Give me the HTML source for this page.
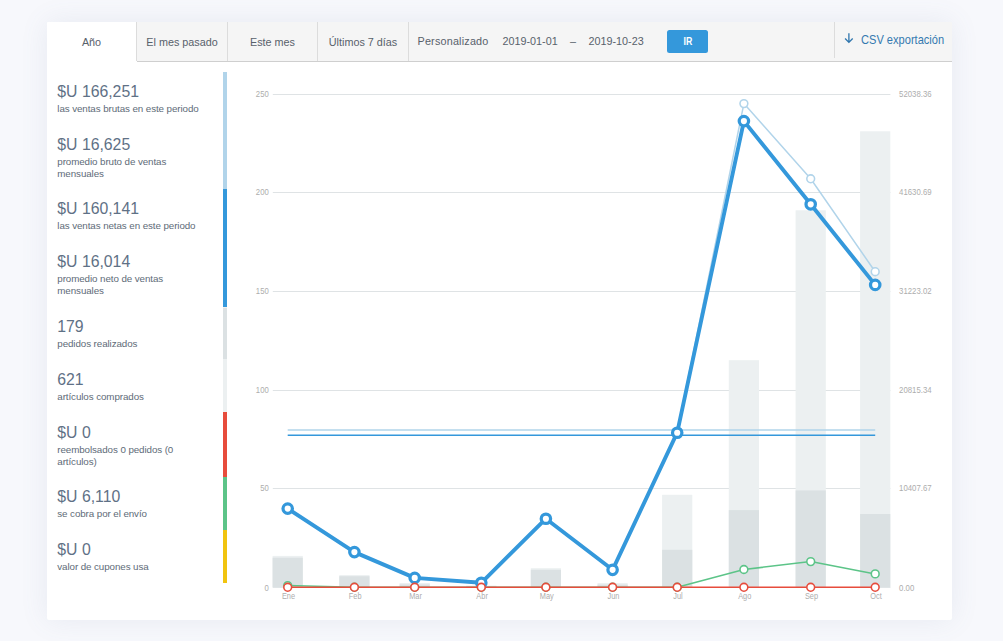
<!DOCTYPE html>
<html lang="es">
<head>
<meta charset="utf-8">
<title>Informes</title>
<style>
html,body{margin:0;padding:0}
body{width:1003px;height:641px;overflow:hidden;background:#f7f8fc;font-family:"Liberation Sans",sans-serif;position:relative}
.card{position:absolute;left:47px;top:22px;width:905px;height:598px;background:#fff;border-radius:2px;box-shadow:0 0 28px rgba(100,118,155,.11)}
.tabs{position:absolute;left:47px;top:22px;width:905px;height:39px;background:#f5f5f5;border-bottom:1px solid #cfcfcf;border-radius:1px 1px 0 0}
.tab{position:absolute;top:0;height:39px;line-height:41px;text-align:center;font-size:10.8px;color:#58616b;border-right:1px solid #dcdcdc;box-sizing:border-box;white-space:nowrap}
.tab.on{background:#fff;border-radius:1px 0 0 0}
.patch{position:absolute;left:0;top:39px;width:90px;height:1px;background:#fff}
.t{position:absolute;white-space:nowrap;font-size:10.8px;color:#58616b}
.btn{position:absolute;left:620px;top:8px;width:41px;height:23px;line-height:23.5px;background:#3498db;color:#fff;font-size:10px;font-weight:bold;text-align:center;border-radius:2.5px}
.btn span{display:inline-block;transform:scaleX(.88)}
.exp{position:absolute;left:787px;top:0;height:36px;border-left:1px solid #dcdcdc}
.exp span{position:absolute;left:26px;top:10px;font-size:13.2px;color:#3479b0;white-space:nowrap;transform:scaleX(.84);transform-origin:0 50%}
.exp svg{position:absolute;left:9px;top:10px}
.big{position:absolute;left:57.3px;font-size:15.8px;line-height:17px;color:#5f7186;white-space:nowrap}
.lab{position:absolute;left:57.3px;font-size:9.8px;line-height:12px;letter-spacing:-0.09px;color:#5e6b78;white-space:nowrap}
.seg{position:absolute;left:223px;width:4px}
.chart{position:absolute;left:0;top:0}
.tk{font-family:"Liberation Sans",sans-serif;font-size:8.2px;fill:#adadad}
</style>
</head>
<body>
<div class="card"></div>
<div class="tabs">
  <div class="tab on" style="left:0;width:90px">Año</div>
  <div class="patch"></div>
  <div class="tab" style="left:90px;width:91px">El mes pasado</div>
  <div class="tab" style="left:181px;width:90px">Este mes</div>
  <div class="tab" style="left:271px;width:91px">Últimos 7 días</div>
  <div class="t" style="left:370.5px;top:13px;letter-spacing:.2px">Personalizado</div>
  <div class="t" style="left:455.5px;top:13px">2019-01-01</div>
  <div class="t" style="left:523px;top:13px">–</div>
  <div class="t" style="left:541.5px;top:13px">2019-10-23</div>
  <div class="btn"><span>IR</span></div>
  <div class="exp">
    <svg width="10" height="12" viewBox="0 0 10 12"><path d="M4.9 1.2V10.4M1.1 6.5L4.9 10.4L8.7 6.5" fill="none" stroke="#2e75ad" stroke-width="1.3"/></svg>
    <span>CSV exportación</span>
  </div>
</div>
<div class="seg" style="top:72px;height:511px;background:#f1f1ef"></div>
<div class="seg" style="top:72px;height:116.7px;background:#b1d4ea"></div>
<div class="seg" style="top:188.7px;height:118.4px;background:#3498db"></div>
<div class="seg" style="top:308.1px;height:50.9px;background:#dbe1e3"></div>
<div class="seg" style="top:359px;height:51.8px;background:#ecf0f1"></div>
<div class="seg" style="top:411.85px;height:65.1px;background:#e74c3c"></div>
<div class="seg" style="top:477px;height:53.0px;background:#5cc488"></div>
<div class="seg" style="top:530px;height:53.0px;background:#f1c40f"></div>
<div class="big" style="top:83.00px">$U 166,251</div>
<div class="lab" style="top:102.50px">las ventas brutas en este periodo</div>
<div class="big" style="top:136.00px">$U 16,625</div>
<div class="lab" style="top:155.50px">promedio bruto de ventas<br>mensuales</div>
<div class="big" style="top:200.00px">$U 160,141</div>
<div class="lab" style="top:219.50px">las ventas netas en este periodo</div>
<div class="big" style="top:253.00px">$U 16,014</div>
<div class="lab" style="top:272.50px">promedio neto de ventas<br>mensuales</div>
<div class="big" style="top:318.00px">179</div>
<div class="lab" style="top:337.50px">pedidos realizados</div>
<div class="big" style="top:371.00px">621</div>
<div class="lab" style="top:390.50px">artículos comprados</div>
<div class="big" style="top:424.00px">$U 0</div>
<div class="lab" style="top:443.50px">reembolsados 0 pedidos (0<br>artículos)</div>
<div class="big" style="top:488.00px">$U 6,110</div>
<div class="lab" style="top:507.50px">se cobra por el envío</div>
<div class="big" style="top:541.00px">$U 0</div>
<div class="lab" style="top:560.50px">valor de cupones usa</div>
<svg class="chart" width="1003" height="641" viewBox="0 0 1003 641">
<line x1="272.8" x2="890.4" y1="587.5" y2="587.5" stroke="#dfe3e5" stroke-width="1"/>
<line x1="272.8" x2="890.4" y1="488.5" y2="488.5" stroke="#dfe3e5" stroke-width="1"/>
<line x1="272.8" x2="890.4" y1="390.5" y2="390.5" stroke="#dfe3e5" stroke-width="1"/>
<line x1="272.8" x2="890.4" y1="291.5" y2="291.5" stroke="#dfe3e5" stroke-width="1"/>
<line x1="272.8" x2="890.4" y1="192.5" y2="192.5" stroke="#dfe3e5" stroke-width="1"/>
<line x1="272.8" x2="890.4" y1="94.5" y2="94.5" stroke="#dfe3e5" stroke-width="1"/>
<rect x="272.6" y="555.9" width="30.2" height="31.4" fill="#ecf0f1"/>
<rect x="339.3" y="575.1" width="30.2" height="12.2" fill="#ecf0f1"/>
<rect x="399.6" y="583.0" width="30.2" height="4.3" fill="#ecf0f1"/>
<rect x="466.2" y="585.6" width="30.2" height="1.7" fill="#ecf0f1"/>
<rect x="530.8" y="568.2" width="30.2" height="19.1" fill="#ecf0f1"/>
<rect x="597.5" y="583.1" width="30.2" height="4.2" fill="#ecf0f1"/>
<rect x="662.1" y="494.8" width="30.2" height="92.5" fill="#ecf0f1"/>
<rect x="728.8" y="360.2" width="30.2" height="227.1" fill="#ecf0f1"/>
<rect x="795.6" y="210.3" width="30.2" height="377.0" fill="#ecf0f1"/>
<rect x="860.1" y="131.3" width="30.2" height="456.0" fill="#ecf0f1"/>
<rect x="272.6" y="557.7" width="30.2" height="29.6" fill="#dbe1e3"/>
<rect x="339.3" y="576.2" width="30.2" height="11.1" fill="#dbe1e3"/>
<rect x="399.6" y="584.4" width="30.2" height="2.9" fill="#dbe1e3"/>
<rect x="466.2" y="586.3" width="30.2" height="1.0" fill="#dbe1e3"/>
<rect x="530.8" y="569.8" width="30.2" height="17.5" fill="#dbe1e3"/>
<rect x="597.5" y="584.6" width="30.2" height="2.7" fill="#dbe1e3"/>
<rect x="662.1" y="549.8" width="30.2" height="37.5" fill="#dbe1e3"/>
<rect x="728.8" y="510.1" width="30.2" height="77.2" fill="#dbe1e3"/>
<rect x="795.6" y="490.4" width="30.2" height="96.9" fill="#dbe1e3"/>
<rect x="860.1" y="514.0" width="30.2" height="73.3" fill="#dbe1e3"/>
<line x1="287.7" x2="875.2" y1="430.1" y2="430.1" stroke="#b1d4ea" stroke-width="1.5"/>
<line x1="287.7" x2="875.2" y1="435.3" y2="435.3" stroke="#3498db" stroke-width="1.5"/>
<polyline points="287.7,585.6 354.4,587.3 414.7,587.3 481.3,587.3 545.9,587.3 612.6,587.3 677.2,587.3 743.9,569.5 810.7,561.6 875.2,573.9" fill="none" stroke="#5cc488" stroke-width="1.5" stroke-linejoin="round"/>
<circle cx="287.7" cy="585.6" r="3.9" fill="#fff" stroke="#5cc488" stroke-width="1.56"/>
<circle cx="354.4" cy="587.3" r="3.9" fill="#fff" stroke="#5cc488" stroke-width="1.56"/>
<circle cx="414.7" cy="587.3" r="3.9" fill="#fff" stroke="#5cc488" stroke-width="1.56"/>
<circle cx="481.3" cy="587.3" r="3.9" fill="#fff" stroke="#5cc488" stroke-width="1.56"/>
<circle cx="545.9" cy="587.3" r="3.9" fill="#fff" stroke="#5cc488" stroke-width="1.56"/>
<circle cx="612.6" cy="587.3" r="3.9" fill="#fff" stroke="#5cc488" stroke-width="1.56"/>
<circle cx="677.2" cy="587.3" r="3.9" fill="#fff" stroke="#5cc488" stroke-width="1.56"/>
<circle cx="743.9" cy="569.5" r="3.9" fill="#fff" stroke="#5cc488" stroke-width="1.56"/>
<circle cx="810.7" cy="561.6" r="3.9" fill="#fff" stroke="#5cc488" stroke-width="1.56"/>
<circle cx="875.2" cy="573.9" r="3.9" fill="#fff" stroke="#5cc488" stroke-width="1.56"/>
<polyline points="287.7,508.7 354.4,552.1 414.7,577.6 481.3,582.9 545.9,518.7 612.6,569.8 677.2,432.0 743.9,103.6 810.7,178.8 875.2,271.7" fill="none" stroke="#b1d4ea" stroke-width="1.5" stroke-linejoin="round"/>
<circle cx="287.7" cy="508.7" r="3.9" fill="#fff" stroke="#b1d4ea" stroke-width="1.56"/>
<circle cx="354.4" cy="552.1" r="3.9" fill="#fff" stroke="#b1d4ea" stroke-width="1.56"/>
<circle cx="414.7" cy="577.6" r="3.9" fill="#fff" stroke="#b1d4ea" stroke-width="1.56"/>
<circle cx="481.3" cy="582.9" r="3.9" fill="#fff" stroke="#b1d4ea" stroke-width="1.56"/>
<circle cx="545.9" cy="518.7" r="3.9" fill="#fff" stroke="#b1d4ea" stroke-width="1.56"/>
<circle cx="612.6" cy="569.8" r="3.9" fill="#fff" stroke="#b1d4ea" stroke-width="1.56"/>
<circle cx="677.2" cy="432.0" r="3.9" fill="#fff" stroke="#b1d4ea" stroke-width="1.56"/>
<circle cx="743.9" cy="103.6" r="3.9" fill="#fff" stroke="#b1d4ea" stroke-width="1.56"/>
<circle cx="810.7" cy="178.8" r="3.9" fill="#fff" stroke="#b1d4ea" stroke-width="1.56"/>
<circle cx="875.2" cy="271.7" r="3.9" fill="#fff" stroke="#b1d4ea" stroke-width="1.56"/>
<polyline points="287.7,508.6 354.4,552.1 414.7,577.9 481.3,582.8 545.9,518.7 612.6,569.8 677.2,432.7 743.9,121.1 810.7,204.3 875.2,284.9" fill="none" stroke="#3498db" stroke-width="3.9" stroke-linejoin="round"/>
<circle cx="287.7" cy="508.6" r="4.7" fill="#fff" stroke="#3498db" stroke-width="3.25"/>
<circle cx="354.4" cy="552.1" r="4.7" fill="#fff" stroke="#3498db" stroke-width="3.25"/>
<circle cx="414.7" cy="577.9" r="4.7" fill="#fff" stroke="#3498db" stroke-width="3.25"/>
<circle cx="481.3" cy="582.8" r="4.7" fill="#fff" stroke="#3498db" stroke-width="3.25"/>
<circle cx="545.9" cy="518.7" r="4.7" fill="#fff" stroke="#3498db" stroke-width="3.25"/>
<circle cx="612.6" cy="569.8" r="4.7" fill="#fff" stroke="#3498db" stroke-width="3.25"/>
<circle cx="677.2" cy="432.7" r="4.7" fill="#fff" stroke="#3498db" stroke-width="3.25"/>
<circle cx="743.9" cy="121.1" r="4.7" fill="#fff" stroke="#3498db" stroke-width="3.25"/>
<circle cx="810.7" cy="204.3" r="4.7" fill="#fff" stroke="#3498db" stroke-width="3.25"/>
<circle cx="875.2" cy="284.9" r="4.7" fill="#fff" stroke="#3498db" stroke-width="3.25"/>
<polyline points="287.7,587.3 354.4,587.3 414.7,587.3 481.3,587.3 545.9,587.3 612.6,587.3 677.2,587.3 743.9,587.3 810.7,587.3 875.2,587.3" fill="none" stroke="#e74c3c" stroke-width="1.5" stroke-linejoin="round"/>
<circle cx="287.7" cy="587.3" r="3.9" fill="#fff" stroke="#e74c3c" stroke-width="1.56"/>
<circle cx="354.4" cy="587.3" r="3.9" fill="#fff" stroke="#e74c3c" stroke-width="1.56"/>
<circle cx="414.7" cy="587.3" r="3.9" fill="#fff" stroke="#e74c3c" stroke-width="1.56"/>
<circle cx="481.3" cy="587.3" r="3.9" fill="#fff" stroke="#e74c3c" stroke-width="1.56"/>
<circle cx="545.9" cy="587.3" r="3.9" fill="#fff" stroke="#e74c3c" stroke-width="1.56"/>
<circle cx="612.6" cy="587.3" r="3.9" fill="#fff" stroke="#e74c3c" stroke-width="1.56"/>
<circle cx="677.2" cy="587.3" r="3.9" fill="#fff" stroke="#e74c3c" stroke-width="1.56"/>
<circle cx="743.9" cy="587.3" r="3.9" fill="#fff" stroke="#e74c3c" stroke-width="1.56"/>
<circle cx="810.7" cy="587.3" r="3.9" fill="#fff" stroke="#e74c3c" stroke-width="1.56"/>
<circle cx="875.2" cy="587.3" r="3.9" fill="#fff" stroke="#e74c3c" stroke-width="1.56"/>
<text class="tk" transform="translate(268.7,590.95) scale(0.94,1)" text-anchor="end">0</text>
<text class="tk" transform="translate(268.7,491.05) scale(0.94,1)" text-anchor="end">50</text>
<text class="tk" transform="translate(268.7,393.05) scale(0.94,1)" text-anchor="end">100</text>
<text class="tk" transform="translate(268.7,294.05) scale(0.94,1)" text-anchor="end">150</text>
<text class="tk" transform="translate(268.7,195.05) scale(0.94,1)" text-anchor="end">200</text>
<text class="tk" transform="translate(268.7,97.05) scale(0.94,1)" text-anchor="end">250</text>
<text class="tk" transform="translate(899.1,590.95) scale(0.95,1)" text-anchor="start">0.00</text>
<text class="tk" transform="translate(899.1,491.05) scale(0.95,1)" text-anchor="start">10407.67</text>
<text class="tk" transform="translate(899.1,393.05) scale(0.95,1)" text-anchor="start">20815.34</text>
<text class="tk" transform="translate(899.1,294.05) scale(0.95,1)" text-anchor="start">31223.02</text>
<text class="tk" transform="translate(899.1,195.05) scale(0.95,1)" text-anchor="start">41630.69</text>
<text class="tk" transform="translate(899.1,97.05) scale(0.95,1)" text-anchor="start">52038.36</text>
<text class="tk" transform="translate(288.5,599.40) scale(0.9,1)" text-anchor="middle">Ene</text>
<text class="tk" transform="translate(355.2,599.40) scale(0.9,1)" text-anchor="middle">Feb</text>
<text class="tk" transform="translate(415.5,599.40) scale(0.9,1)" text-anchor="middle">Mar</text>
<text class="tk" transform="translate(482.1,599.40) scale(0.9,1)" text-anchor="middle">Abr</text>
<text class="tk" transform="translate(546.7,599.40) scale(0.9,1)" text-anchor="middle">May</text>
<text class="tk" transform="translate(613.4,599.40) scale(0.9,1)" text-anchor="middle">Jun</text>
<text class="tk" transform="translate(678.0,599.40) scale(0.9,1)" text-anchor="middle">Jul</text>
<text class="tk" transform="translate(744.7,599.40) scale(0.9,1)" text-anchor="middle">Ago</text>
<text class="tk" transform="translate(811.5,599.40) scale(0.9,1)" text-anchor="middle">Sep</text>
<text class="tk" transform="translate(876.0,599.40) scale(0.9,1)" text-anchor="middle">Oct</text>
</svg>
</body>
</html>
